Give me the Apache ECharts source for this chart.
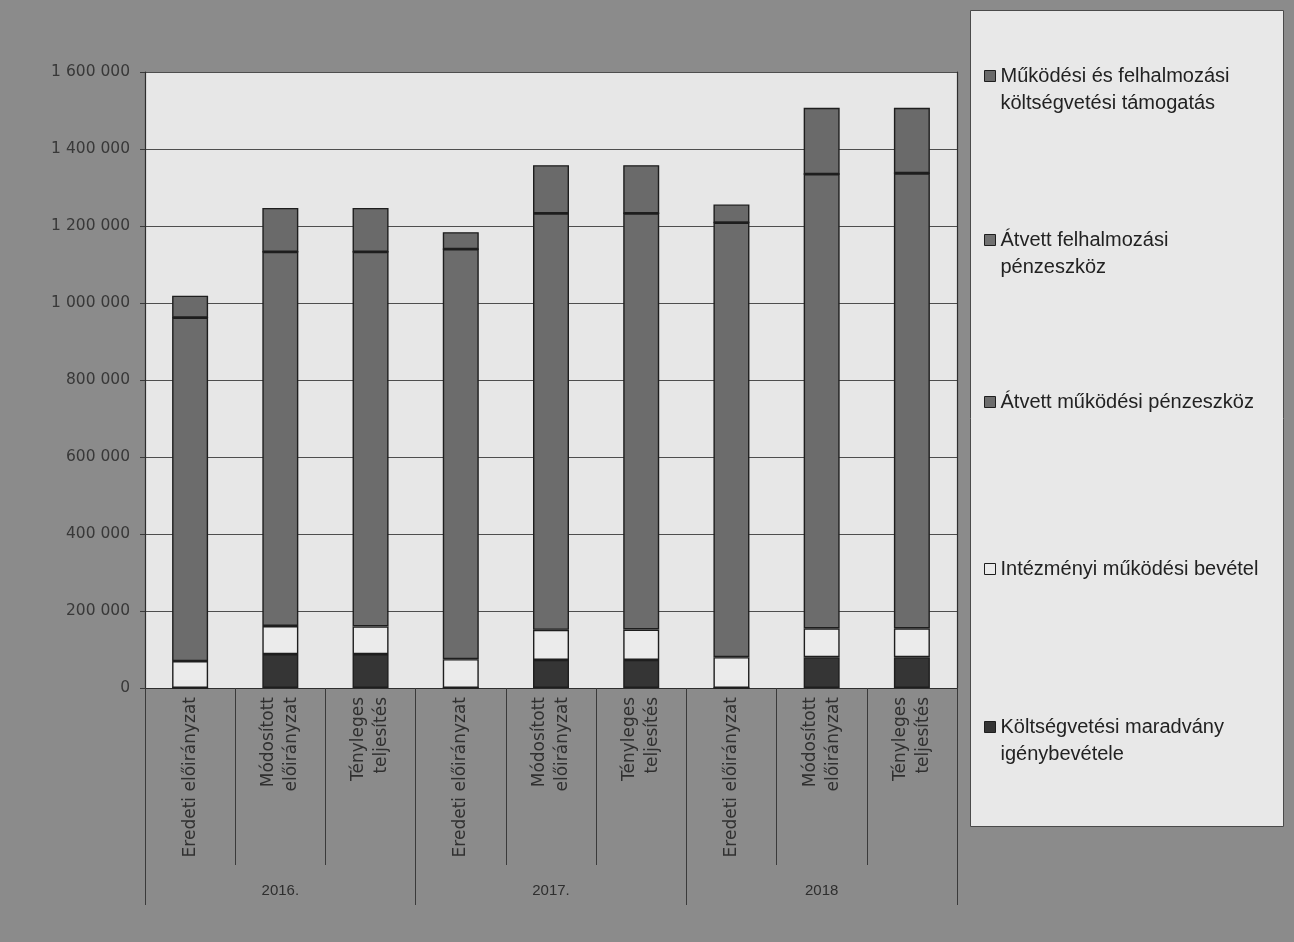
<!DOCTYPE html>
<html lang="hu">
<head>
<meta charset="utf-8">
<title>Bevételek forrásonként 2016–2018</title>
<script src="https://cdn.jsdelivr.net/npm/echarts@6/dist/echarts.min.js"></script>
<style>
  html, body { margin: 0; padding: 0; background: #8b8b8b; }
  #chart { width: 1294px; height: 942px; }
</style>
</head>
<body>
<div id="chart"></div>
<script>
// Categories (bottom axis) and the year groups beneath them
const categories = [
  'Eredeti előirányzat', 'Módosított\nelőirányzat', 'Tényleges\nteljesítés',
  'Eredeti előirányzat', 'Módosított\nelőirányzat', 'Tényleges\nteljesítés',
  'Eredeti előirányzat', 'Módosított\nelőirányzat', 'Tényleges\nteljesítés'
];
const years = ['2016.', '2017.', '2018'];

// Stacked series, bottom to top (ezer Ft)
const maradvany   = [0, 88000, 88000, 0, 73000, 73000, 0, 80000, 80000];
const intezmenyi  = [70000, 73000, 72000, 75000, 78000, 79000, 80000, 75000, 75000];
const atvettMuk   = [892000, 972000, 973000, 1065000, 1082000, 1081000, 1129000, 1180000, 1182000];
const atvettFelh  = [0, 0, 0, 0, 0, 0, 0, 0, 0];
const tamogatas   = [57000, 114000, 114000, 44000, 125000, 125000, 47000, 172000, 170000];

// Value axis ticks
const yMin = 0, yMax = 1600000, yStep = 200000;

const names = {
  tam: 'Működési és felhalmozási\nköltségvetési támogatás',
  felh: 'Átvett felhalmozási\npénzeszköz',
  muk: 'Átvett működési pénzeszköz',
  int: 'Intézményi működési bevétel',
  mar: 'Költségvetési maradvány\nigénybevétele'
};

const DARK = '#353535', GREY = '#6c6c6c', LIGHT = '#ebebeb', EDGE = '#1e1e1e';

function bar(name, data, color) {
  return {
    name, type: 'bar', stack: 'total', data,
    barWidth: 36,
    itemStyle: { color, borderColor: EDGE, borderWidth: 1.4 },
    emphasis: { disabled: true }
  };
}

// One legend block per series so each sits at its own height in the box.
// Two-line names get a blank leading line so the swatch lines up with the first line.
function legendAt(name, lineCenter, twoLines) {
  const lh = 27;
  return {
    data: [name],
    left: 984,
    top: twoLines ? lineCenter - 40.5 : lineCenter - 13.5,
    padding: 0,
    icon: 'rect',
    itemWidth: 11, itemHeight: 11,
    itemStyle: { borderColor: EDGE, borderWidth: 1 },
    selectedMode: false,
    formatter: n => (twoLines ? ' \n' : '') + n,
    textStyle: {
      fontFamily: 'Liberation Sans, Arial, sans-serif',
      fontSize: 20, color: '#222222', lineHeight: lh
    }
  };
}

const fmt = v => String(v).replace(/\B(?=(\d{3})+(?!\d))/g, ' ');

const chart = echarts.init(document.getElementById('chart'), null, { renderer: 'canvas' });
chart.setOption({
  animation: false,
  backgroundColor: '#8b8b8b',
  graphic: [{
    type: 'rect', z: -1,
    shape: { x: 970.5, y: 10.5, width: 313, height: 816 },
    style: { fill: '#e8e8e8', stroke: '#4a4a4a', lineWidth: 1 }
  }],
  grid: {
    left: 145, right: 337, top: 72, bottom: 254,
    show: true, backgroundColor: '#e7e7e7', borderWidth: 0
  },
  legend: [
    legendAt(names.tam, 76, true),
    legendAt(names.felh, 240, true),
    legendAt(names.muk, 402, false),
    legendAt(names.int, 569, false),
    legendAt(names.mar, 727, true)
  ],
  xAxis: [{
    type: 'category', data: categories, gridIndex: 0, position: 'bottom',
    axisLine: { show: true, lineStyle: { color: '#2e2e2e', width: 1.2 } },
    axisTick: { show: true, interval: 0, length: 177, lineStyle: { color: '#3a3a3a' } },
    axisLabel: {
      interval: 0, rotate: 90, margin: 9,
      fontFamily: 'DejaVu Sans, sans-serif', fontSize: 17, lineHeight: 23, color: '#303030'
    }
  }, {
    type: 'category', data: years, gridIndex: 0, position: 'bottom',
    axisLine: { show: false },
    axisTick: { show: true, interval: 0, length: 217, lineStyle: { color: '#3a3a3a' } },
    axisLabel: {
      interval: 0, margin: 195,
      fontFamily: 'Liberation Sans, Arial, sans-serif', fontSize: 15, color: '#2e2e2e'
    }
  }],
  yAxis: [{
    type: 'value', min: yMin, max: yMax, interval: yStep,
    axisLine: { show: true, lineStyle: { color: '#2e2e2e', width: 1.2 } },
    axisTick: { show: true, length: 5, lineStyle: { color: '#3a3a3a' } },
    splitLine: { show: true, lineStyle: { color: '#4e4e4e', width: 1 } },
    axisLabel: {
      margin: 15, formatter: fmt,
      fontFamily: 'DejaVu Sans, sans-serif', fontSize: 15.5, color: '#383838'
    }
  }, {
    // right-hand frame of the plot area
    type: 'value', position: 'right', min: yMin, max: yMax, interval: yStep,
    axisLine: { show: true, lineStyle: { color: '#2e2e2e', width: 1.2 } },
    axisTick: { show: false }, axisLabel: { show: false }, splitLine: { show: false }
  }],
  series: [
    bar(names.mar, maradvany, DARK),
    bar(names.int, intezmenyi, LIGHT),
    bar(names.muk, atvettMuk, GREY),
    bar(names.felh, atvettFelh, '#707070'),
    bar(names.tam, tamogatas, '#6a6a6a')
  ]
});
</script>
</body>
</html>
